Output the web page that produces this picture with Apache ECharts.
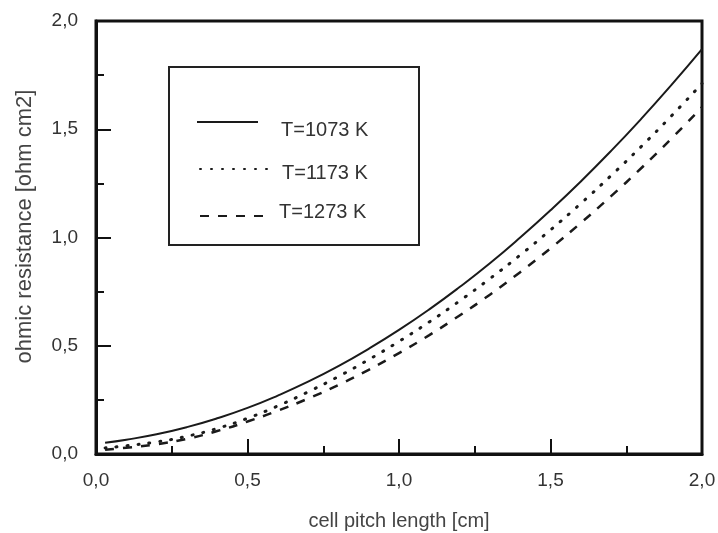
<!DOCTYPE html>
<html>
<head>
<meta charset="utf-8">
<script src="https://cdn.jsdelivr.net/npm/echarts@6/dist/echarts.min.js"></script>
<style>html,body{margin:0;padding:0;background:#fff;}#c{width:718px;height:533px;}</style>
</head>
<body>
<div id="c"></div>
<script>
const xValues = [0.03, 0.1, 0.2, 0.3, 0.4, 0.5, 0.6, 0.7, 0.8, 0.9, 1.0, 1.1, 1.2, 1.3, 1.4, 1.5, 1.6, 1.7, 1.8, 1.9, 2.0];
const seriesNames = ['T=1073 K', 'T=1173 K', 'T=1273 K'];
const r1073 = [0.052, 0.066, 0.091, 0.124, 0.165, 0.213, 0.270, 0.334, 0.406, 0.486, 0.573, 0.668, 0.771, 0.881, 1.000, 1.126, 1.259, 1.400, 1.549, 1.706, 1.870];
const r1173 = [0.028, 0.038, 0.056, 0.082, 0.118, 0.165, 0.222, 0.287, 0.358, 0.436, 0.520, 0.610, 0.707, 0.810, 0.919, 1.035, 1.157, 1.286, 1.421, 1.563, 1.711];
const r1273 = [0.020, 0.029, 0.045, 0.070, 0.106, 0.150, 0.200, 0.256, 0.319, 0.389, 0.466, 0.549, 0.640, 0.736, 0.840, 0.950, 1.067, 1.191, 1.321, 1.458, 1.602];
const tickValues = [0, 0.5, 1.0, 1.5, 2.0];

const pairs = ys => xValues.map((x, i) => [x, ys[i]]);
const fmt = v => v.toFixed(1).replace('.', ',');
const font = 'Liberation Sans, Arial, sans-serif';

const axisCommon = {
  type: 'value', min: tickValues[0], max: tickValues[tickValues.length - 1], interval: 0.5,
  axisLine: { show: true, lineStyle: { color: '#111', width: 3 } },
  axisTick: { show: true, inside: true, length: 15, lineStyle: { color: '#111', width: 2 } },
  minorTick: { show: true, splitNumber: 2, length: 8, lineStyle: { color: '#111', width: 2 } },
  splitLine: { show: false },
  axisLabel: { formatter: fmt, fontFamily: font, fontSize: 19, color: '#333' },
  nameLocation: 'middle',
  nameTextStyle: { fontFamily: font, fontSize: 20, color: '#444' }
};

const legendText = (pad) => ({
  fontFamily: font, fontSize: 20, color: '#333',
  rich: { t: { fontFamily: font, fontSize: 20, color: '#333', padding: pad } }
});
const legendFmt = name => '{t|' + name + '}';

const chart = echarts.init(document.getElementById('c'));
chart.setOption({
  animation: false,
  backgroundColor: '#fff',
  grid: { left: 96, right: 16, top: 21, bottom: 79, containLabel: false, outerBoundsMode: 'none',
    show: true, borderColor: '#111', borderWidth: 3, backgroundColor: 'transparent' },
  xAxis: Object.assign({}, axisCommon, {
    name: 'cell pitch length [cm]', nameGap: 57,
    axisLabel: Object.assign({}, axisCommon.axisLabel, { margin: 17 })
  }),
  yAxis: Object.assign({}, axisCommon, {
    name: 'ohmic resistance [ohm cm2]', nameGap: 60,
    nameTextStyle: Object.assign({}, axisCommon.nameTextStyle, { fontSize: 22, padding: [0, 0, 0, 22] }),
    axisLabel: Object.assign({}, axisCommon.axisLabel, { margin: 18 })
  }),
  legend: [
    { data: [seriesNames[0]], left: 196, top: 118, padding: 0, itemWidth: 61, itemHeight: 10, itemStyle: { opacity: 0 }, formatter: legendFmt, textStyle: legendText([16, 0, 0, 18]) },
    { data: [seriesNames[1]], left: 199, top: 163, padding: 0, itemWidth: 73, itemHeight: 10, itemStyle: { opacity: 0 }, formatter: legendFmt, textStyle: legendText([8, 0, 0, 4]) },
    { data: [seriesNames[2]], left: 199, top: 202, padding: 0, itemWidth: 68, itemHeight: 10, itemStyle: { opacity: 0 }, formatter: legendFmt, textStyle: legendText([0, 0, 8, 6]) }
  ],
  graphic: [{
    type: 'rect', left: 168, top: 66, z: 0,
    shape: { width: 250, height: 178 },
    style: { fill: '#fff', stroke: '#222', lineWidth: 2 }
  }],
  series: [
    { name: seriesNames[0], type: 'line', data: pairs(r1073), smooth: true, symbol: 'none',
      lineStyle: { color: '#1a1a1a', width: 2 }, itemStyle: { color: '#1a1a1a' } },
    { name: seriesNames[1], type: 'line', data: pairs(r1173), smooth: true, symbol: 'none',
      lineStyle: { color: '#1a1a1a', width: 3, type: [1, 10], cap: 'round' }, itemStyle: { color: '#1a1a1a' } },
    { name: seriesNames[2], type: 'line', data: pairs(r1273), smooth: true, symbol: 'none',
      lineStyle: { color: '#1a1a1a', width: 2.5, type: [9, 9] }, itemStyle: { color: '#1a1a1a' } }
  ]
});
</script>
</body>
</html>
